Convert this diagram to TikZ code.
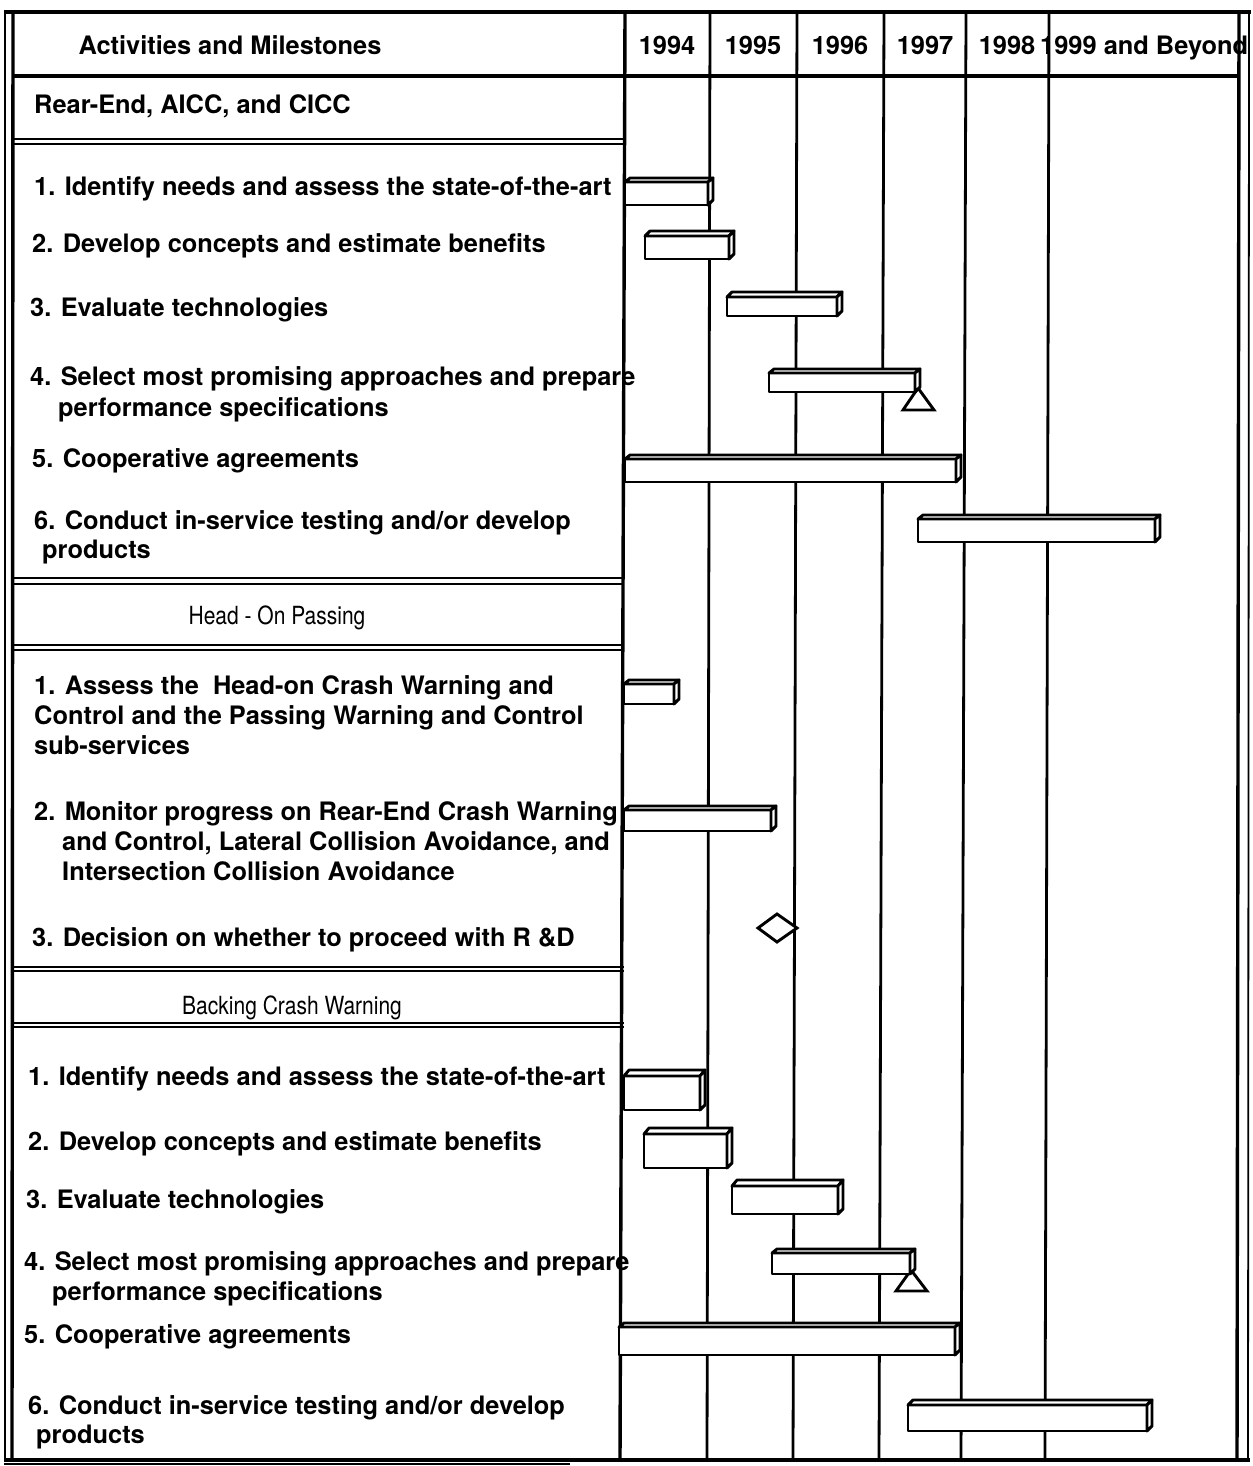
\documentclass[tikz,border=0pt]{standalone}
\usepackage{fontspec}
\setmainfont{TeX Gyre Heros}
\newfontfamily\narrowfont[FakeStretch=0.84]{TeX Gyre Heros}
\begin{document}
\begin{tikzpicture}[x=1pt,y=-1pt,
  frame/.style={line width=3.4pt},
  thinframe/.style={line width=1.8pt},
  grid/.style={line width=2.8pt},
  rule/.style={line width=2.6pt},
  barline/.style={line width=2.9pt,fill=white,line join=round},
  mile/.style={line width=2.9pt,fill=white,line join=miter},
  item/.style={anchor=base west,inner sep=0pt,font=\fontsize{25.4}{30}\selectfont\bfseries},
  head/.style={anchor=base,inner sep=0pt,font=\fontsize{25.4}{30}\selectfont\bfseries},
  section/.style={anchor=base,inner sep=0pt,font=\fontsize{25}{30}\selectfont\narrowfont},
]
% page
\useasboundingbox[fill=white] (0,0) rectangle (1252,1466);

% 3-D bar: x-left, x-right, y-top face, y-front top, y-bottom
\newcommand\gbar[5]{%
  \filldraw[barline] (#1,#4) rectangle (#2,#5);
  \filldraw[barline] (#1,#4) -- (#1+5,#3) -- (#2+5,#3) -- (#2,#4) -- cycle;
  \filldraw[barline] (#2,#4) -- (#2+5,#3) -- (#2+5,#5-5) -- (#2,#5) -- cycle;
}

% outer frame
\draw[frame] (4,12) -- (1251,12);
\draw[thinframe] (5,12) -- (5,1460);
\draw[frame] (13,12) -- (12,1460);
\draw[frame] (1239,12) -- (1237,1460);
\draw[thinframe] (1249,12) -- (1248,1460);
\draw[frame] (4,1460) -- (1250,1460);
\draw[thinframe] (4,1464) -- (570,1464);

% column lines
\draw[frame] (625,12) -- (620,1460);
\draw[grid] (710,12) -- (707,1460);
\draw[grid] (797,12) -- (793,1460);
\draw[grid] (884,12) -- (879,1460);
\draw[grid] (966,12) -- (961,1460);
\draw[grid] (1049,12) -- (1045,1460);

% header rule
\draw[frame] (13,76) -- (1239,76);

% double rules in the activity column
\foreach \ya/\yb in {139/144, 578/584, 645/650, 967/971, 1023/1027}{
  \draw[rule] (13,\ya) -- (624,\ya);
  \draw[rule] (13,\yb) -- (624,\yb);
}

% header texts
\node[head] (hact) at (230,55) {Activities and Milestones};
\node[head] (y94) at (667,55) {1994};
\node[head] (y95) at (753,55) {1995};
\node[head] (y96) at (840,55) {1996};
\node[head] (y97) at (925,55) {1997};
\node[head] (y98) at (1007,55) {1998};
\node[item] (y99) at (1040,55) {1999 and Beyond};

% section: rear-end
\node[item] (secA) at (34,114) {Rear-End, AICC, and CICC};
\node[item] (a1) at (34,196) {1. Identify needs and assess the state-of-the-art};
\node[item] (a2) at (32,252) {2. Develop concepts and estimate benefits};
\node[item] (a3) at (30,316) {3. Evaluate technologies};
\node[item] (a4) at (30,385) {4. Select most promising approaches and prepare};
\node[item] (a4b) at (58,416) {performance specifications};
\node[item] (a5) at (32,467) {5. Cooperative agreements};
\node[item] (a6) at (34,529) {6. Conduct in-service testing and/or develop};
\node[item] (a6b) at (42,558) {products};

% section: head-on passing
\node[section] (secB) at (277,624) {Head - On Passing};
\node[item] (b1) at (34,694) {1. Assess the\ \ Head-on Crash Warning and};
\node[item] (b1b) at (34,724) {Control and the Passing Warning and Control};
\node[item] (b1c) at (34,754) {sub-services};
\node[item] (b2) at (34,820) {2. Monitor progress on Rear-End Crash Warning};
\node[item] (b2b) at (62,850) {and Control, Lateral Collision Avoidance, and};
\node[item] (b2c) at (62,880) {Intersection Collision Avoidance};
\node[item] (b3) at (32,946) {3. Decision on whether to proceed with R \&D};

% section: backing crash warning
\node[section] (secC) at (292,1014) {Backing Crash Warning};
\node[item] (c1) at (28,1085) {1. Identify needs and assess the state-of-the-art};
\node[item] (c2) at (28,1150) {2. Develop concepts and estimate benefits};
\node[item] (c3) at (26,1208) {3. Evaluate technologies};
\node[item] (c4) at (24,1270) {4. Select most promising approaches and prepare};
\node[item] (c4b) at (52,1300) {performance specifications};
\node[item] (c5) at (24,1343) {5. Cooperative agreements};
\node[item] (c6) at (28,1414) {6. Conduct in-service testing and/or develop};
\node[item] (c6b) at (36,1443) {products};

% bars: rear-end
\gbar{625}{708}{178}{182}{205}
\gbar{645}{729}{231}{236}{259}
\gbar{727}{837}{292}{297}{316}
\draw[mile] (918,388) -- (934,410) -- (903,410) -- cycle;
\gbar{769}{915}{369}{373}{392}
\gbar{625}{956}{455}{459}{482}
\gbar{918}{1155}{515}{519}{542}

% bars: head-on passing
\gbar{624}{674}{680}{684}{704}
\gbar{624}{771}{806}{810}{831}
\draw[mile] (758,928) -- (777,914) -- (797,928) -- (777,942) -- cycle;

% bars: backing crash warning
\gbar{624}{700}{1070}{1076}{1110}
\gbar{644}{727}{1128}{1134}{1168}
\gbar{732}{838}{1180}{1186}{1214}
\draw[mile] (911,1270) -- (927,1291) -- (896,1291) -- cycle;
\gbar{772}{910}{1249}{1253}{1274}
\gbar{619}{955}{1323}{1327}{1355}
\gbar{908}{1147}{1400}{1405}{1431}
\end{tikzpicture}
\end{document}
